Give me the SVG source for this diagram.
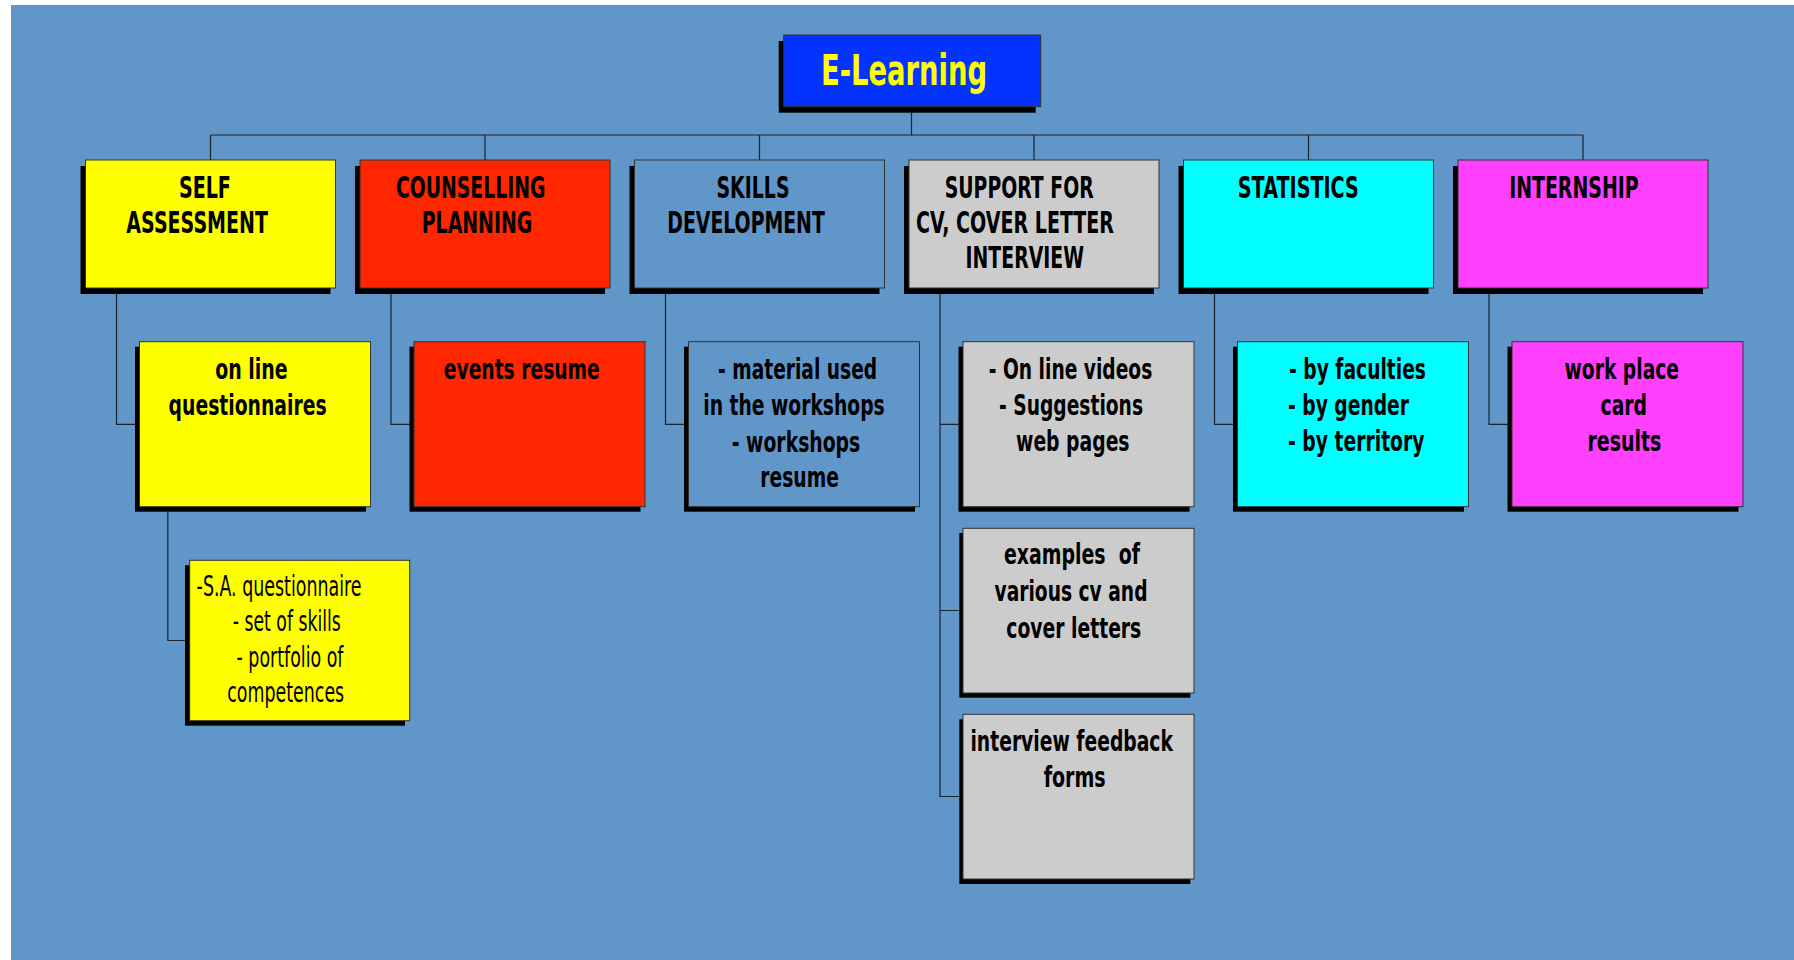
<svg xmlns="http://www.w3.org/2000/svg" width="1794" height="960" viewBox="0 0 1794 960">
<style>
.bg{fill:#6096C8}
.sh{fill:#000}
.bx{stroke:#333;stroke-width:1}
.c{fill:none;stroke:#1c2430;stroke-width:1.2}
.t{font-family:"DejaVu Sans",sans-serif;font-weight:bold;font-size:30px;fill:#000;text-anchor:middle}
.l{font-family:"DejaVu Sans",sans-serif;font-weight:bold;font-size:28px;fill:#000;text-anchor:middle}
.s{font-family:"DejaVu Sans",sans-serif;font-weight:normal;font-size:28px;fill:#000;text-anchor:middle}
.st{text-anchor:start}
.h{font-family:"DejaVu Sans",sans-serif;font-weight:bold;font-size:43px;fill:#FFFF00;text-anchor:middle}
</style>
<rect x="0" y="0" width="1794" height="960" fill="#fff"/>
<rect class="bg" x="11" y="5" width="1783" height="955"/>

<g id="connectors">
<path class="c" d="M911.5,107 V135 M210.5,135 H1583 M210.5,135 V160 M485,135 V160 M759.5,135 V160 M1034,135 V160 M1308.5,135 V160 M1583,135 V160"/>
<path class="c" d="M116.5,288 V424.3 H139.5 M391,288 V424.3 H414 M665.5,288 V424.3 H688.5 M940,288 V796.5 H963 M940,424.3 H963 M940,610.5 H963 M1214.5,288 V424.3 H1237.5 M1489,288 V424.3 H1512"/>
<path class="c" d="M167.8,506 V640.5 H189.7"/>
</g>

<g id="elearning">
<rect class="sh" x="778.7" y="41" width="257" height="71.7"/>
<rect class="bx" x="783.7" y="35" width="257" height="71.7" fill="#0433FF"/>
<text class="h" x="904" y="85" textLength="166" lengthAdjust="spacingAndGlyphs">E-Learning</text>
</g>

<g id="self-assessment">
<rect class="sh" x="80.5" y="166" width="250" height="128"/>
<rect class="bx" x="85.5" y="160" width="250" height="128" fill="#FFFF00"/>
<text class="t" x="204.9" y="197.7" textLength="52" lengthAdjust="spacingAndGlyphs">SELF</text>
<text class="t" x="197.1" y="233.3" textLength="141.5" lengthAdjust="spacingAndGlyphs">ASSESSMENT</text>
</g>
<g id="counselling">
<rect class="sh" x="355" y="166" width="250" height="128"/>
<rect class="bx" x="360" y="160" width="250" height="128" fill="#FF2600"/>
<text class="t" x="470.7" y="197.7" textLength="149.5" lengthAdjust="spacingAndGlyphs">COUNSELLING</text>
<text class="t" x="477" y="233.3" textLength="110.5" lengthAdjust="spacingAndGlyphs">PLANNING</text>
</g>
<g id="skills">
<rect class="sh" x="629.5" y="166" width="250" height="128"/>
<rect class="bx" x="634.5" y="160" width="250" height="128" fill="#6096C8"/>
<text class="t" x="753" y="197.7" textLength="73" lengthAdjust="spacingAndGlyphs">SKILLS</text>
<text class="t" x="746" y="233.3" textLength="157.5" lengthAdjust="spacingAndGlyphs">DEVELOPMENT</text>
</g>
<g id="support">
<rect class="sh" x="904" y="166" width="250" height="128"/>
<rect class="bx" x="909" y="160" width="250" height="128" fill="#CCCCCC"/>
<text class="t" x="1019.2" y="197.7" textLength="149" lengthAdjust="spacingAndGlyphs">SUPPORT FOR</text>
<text class="t" x="1015" y="233.3" textLength="198" lengthAdjust="spacingAndGlyphs">CV, COVER LETTER</text>
<text class="t" x="1024.8" y="268.3" textLength="118.5" lengthAdjust="spacingAndGlyphs">INTERVIEW</text>
</g>
<g id="statistics">
<rect class="sh" x="1178.5" y="166" width="250" height="128"/>
<rect class="bx" x="1183.5" y="160" width="250" height="128" fill="#00FFFF"/>
<text class="t" x="1298.3" y="197.7" textLength="121" lengthAdjust="spacingAndGlyphs">STATISTICS</text>
</g>
<g id="internship">
<rect class="sh" x="1453" y="166" width="250" height="128"/>
<rect class="bx" x="1458" y="160" width="250" height="128" fill="#FF40FF"/>
<text class="t" x="1573.9" y="197.7" textLength="129.5" lengthAdjust="spacingAndGlyphs">INTERNSHIP</text>
</g>

<g id="questionnaires">
<rect class="sh" x="135" y="346.7" width="231" height="165"/>
<rect class="bx" x="139.5" y="341.7" width="231" height="165" fill="#FFFF00"/>
<text class="l" x="251.4" y="379" textLength="72.5" lengthAdjust="spacingAndGlyphs">on line</text>
<text class="l" x="247.6" y="415" textLength="158" lengthAdjust="spacingAndGlyphs">questionnaires</text>
</g>
<g id="events">
<rect class="sh" x="409.5" y="346.7" width="231" height="165"/>
<rect class="bx" x="414" y="341.7" width="231" height="165" fill="#FF2600"/>
<text class="l" x="521.8" y="379" textLength="156" lengthAdjust="spacingAndGlyphs">events resume</text>
</g>
<g id="material">
<rect class="sh" x="684" y="346.7" width="231" height="165"/>
<rect class="bx" x="688.5" y="341.7" width="231" height="165" fill="#6096C8"/>
<text class="l" x="797.6" y="379" textLength="159" lengthAdjust="spacingAndGlyphs">- material used</text>
<text class="l" x="794" y="415" textLength="181.5" lengthAdjust="spacingAndGlyphs">in the workshops</text>
<text class="l" x="796" y="451.5" textLength="128.5" lengthAdjust="spacingAndGlyphs">- workshops</text>
<text class="l" x="799.6" y="487.3" textLength="78.5" lengthAdjust="spacingAndGlyphs">resume</text>
</g>
<g id="videos">
<rect class="sh" x="958.5" y="346.7" width="231" height="165"/>
<rect class="bx" x="963" y="341.7" width="231" height="165" fill="#CCCCCC"/>
<text class="l" x="1070.5" y="379" textLength="163.5" lengthAdjust="spacingAndGlyphs">- On line videos</text>
<text class="l" x="1071" y="415" textLength="144" lengthAdjust="spacingAndGlyphs">- Suggestions</text>
<text class="l" x="1072.8" y="451" textLength="113.5" lengthAdjust="spacingAndGlyphs">web pages</text>
</g>
<g id="by-faculties">
<rect class="sh" x="1233" y="346.7" width="231" height="165"/>
<rect class="bx" x="1237.5" y="341.7" width="231" height="165" fill="#00FFFF"/>
<text class="l st" x="1289" y="379" textLength="137" lengthAdjust="spacingAndGlyphs">- by faculties</text>
<text class="l st" x="1288" y="415" textLength="121" lengthAdjust="spacingAndGlyphs">- by gender</text>
<text class="l st" x="1288" y="451" textLength="136.5" lengthAdjust="spacingAndGlyphs">- by territory</text>
</g>
<g id="work-place">
<rect class="sh" x="1507.5" y="346.7" width="231" height="165"/>
<rect class="bx" x="1512" y="341.7" width="231" height="165" fill="#FF40FF"/>
<text class="l" x="1621.8" y="379" textLength="114.5" lengthAdjust="spacingAndGlyphs">work place</text>
<text class="l" x="1623.8" y="415" textLength="46.5" lengthAdjust="spacingAndGlyphs">card</text>
<text class="l" x="1624.4" y="451" textLength="74" lengthAdjust="spacingAndGlyphs">results</text>
</g>

<g id="sa-questionnaire">
<rect class="sh" x="185" y="565.3" width="220" height="160.4"/>
<rect class="bx" x="189.7" y="560.3" width="220" height="160.4" fill="#FFFF00"/>
<text class="s" x="279.1" y="596" textLength="165" lengthAdjust="spacingAndGlyphs">-S.A. questionnaire</text>
<text class="s" x="286.8" y="631" textLength="108" lengthAdjust="spacingAndGlyphs">- set of skills</text>
<text class="s" x="290" y="667" textLength="107" lengthAdjust="spacingAndGlyphs">- portfolio of</text>
<text class="s" x="285.7" y="701.7" textLength="117" lengthAdjust="spacingAndGlyphs">competences</text>
</g>

<g id="examples">
<rect class="sh" x="959.3" y="533" width="231" height="164.7"/>
<rect class="bx" x="963" y="528.3" width="231" height="164.7" fill="#CCCCCC"/>
<text class="l" x="1072" y="564.3" textLength="136" lengthAdjust="spacingAndGlyphs" xml:space="preserve">examples  of</text>
<text class="l" x="1071" y="601" textLength="153" lengthAdjust="spacingAndGlyphs">various cv and</text>
<text class="l" x="1073.8" y="637.7" textLength="135" lengthAdjust="spacingAndGlyphs">cover letters</text>
</g>
<g id="interview-forms">
<rect class="sh" x="959.3" y="719.3" width="231" height="164.7"/>
<rect class="bx" x="963" y="714.3" width="231" height="164.7" fill="#CCCCCC"/>
<text class="l" x="1071.7" y="750.7" textLength="202.5" lengthAdjust="spacingAndGlyphs">interview feedback</text>
<text class="l" x="1074.7" y="786.7" textLength="62" lengthAdjust="spacingAndGlyphs">forms</text>
</g>
</svg>
